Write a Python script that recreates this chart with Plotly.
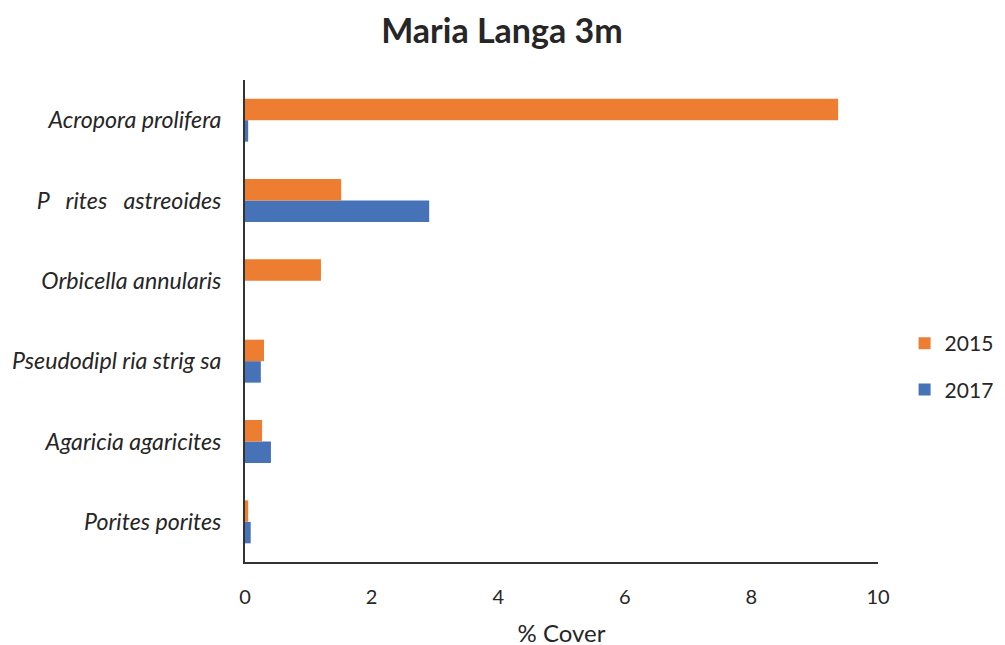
import plotly.graph_objects as go

categories = ["Porites porites", "Agaricia agaricites", "Pseudodipl ria strig sa",
              "Orbicella annularis", "P\u00a0\u00a0\u00a0rites\u00a0\u00a0\u00a0astreoides", "Acropora prolifera"]
cover_2015 = [0.05, 0.27, 0.30, 1.20, 1.52, 9.37]
cover_2017 = [0.09, 0.41, 0.25, 0.0, 2.91, 0.05]
x_ticks = [0, 2, 4, 6, 8, 10]

FONT = "Lato, 'Open Sans', sans-serif"
TXT = "#262626"

fig = go.Figure()
fig.add_trace(go.Bar(y=categories, x=cover_2017, orientation="h", name="2017", legendgroup="b",
                     legendrank=2, marker=dict(color="#4672B8", line=dict(width=0))))
fig.add_trace(go.Bar(y=categories, x=cover_2015, orientation="h", name="2015", legendgroup="a",
                     legendrank=1, marker=dict(color="#ED7D31", line=dict(width=0))))

fig.update_layout(
    width=1005, height=645,
    margin=dict(l=237, r=135, t=72, b=91),
    paper_bgcolor="white", plot_bgcolor="white",
    barmode="group", bargap=0.465, bargroupgap=0,
    title=dict(text="<b>Maria Langa 3m</b>", x=0.4915, xanchor="center", y=0.964, yanchor="middle",
               font=dict(family=FONT, size=34, color=TXT)),
    font=dict(family=FONT, color=TXT),
    legend=dict(traceorder="grouped", x=1.042, xanchor="left", y=0.4056, yanchor="middle",
                font=dict(size=21, color=TXT), itemwidth=30, tracegroupgap=16,
                bgcolor="rgba(0,0,0,0)"),
    xaxis=dict(range=[0, 10], tickvals=x_ticks, showgrid=False, zeroline=False, automargin=False,
               showline=True, linecolor="#333333", linewidth=2, ticks="", ticklabelstandoff=16,
               tickfont=dict(size=20, color=TXT),
               title=dict(text="% Cover", font=dict(size=24, color=TXT), standoff=18)),
    yaxis=dict(showgrid=False, zeroline=False, showline=True, linecolor="#333333", linewidth=2,
               ticks="", ticklabelstandoff=17, automargin=False,
               tickfont=dict(size=23.2, color=TXT, style="italic")),
)

fig.write_html("out.html")
